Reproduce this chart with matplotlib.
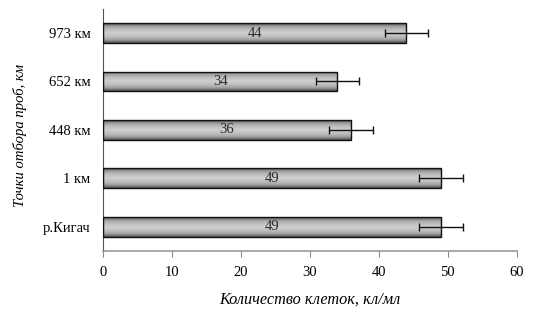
import numpy as np
import matplotlib.pyplot as plt
from matplotlib.colors import LinearSegmentedColormap

sites = ["р.Кигач", "1 км", "448 км", "652 км", "973 км"]
cells = [49, 49, 36, 34, 44]
errors = [3.2, 3.2, 3.2, 3.1, 3.1]
ticks_x = [0, 10, 20, 30, 40, 50, 60]

plt.rcParams["font.family"] = ["Liberation Serif", "DejaVu Serif"]

fig = plt.figure(figsize=(5.36, 3.30), dpi=100)
ax = fig.add_axes([0.192, 0.240, 0.772, 0.733])

bar_h = 0.41
ypos = np.arange(len(sites))

# vertical gradient: dark edges, light middle
cmap = LinearSegmentedColormap.from_list("bar", ["#cdcdcd", "#a4a4a4", "#505050"])
prof = np.abs(np.linspace(-1, 1, 64)) ** 1.6
grad = prof.reshape(-1, 1)

bars = ax.barh(ypos, cells, height=bar_h, color="none", edgecolor="#111111",
               linewidth=1.0, zorder=3)
for b in bars:
    x0, y0 = b.get_x(), b.get_y()
    w, h = b.get_width(), b.get_height()
    im = ax.imshow(grad, extent=[x0, x0 + w, y0, y0 + h], aspect="auto",
                   cmap=cmap, vmin=0, vmax=1, zorder=2, interpolation="bilinear")
    im.set_clip_path(b)

ax.errorbar(cells, ypos, xerr=errors, fmt="none", ecolor="#111111",
            elinewidth=1.0, capsize=3, capthick=1.0, zorder=4)

for y, v in zip(ypos, cells):
    ax.text(v / 2, y, str(v), ha="center", va="center", fontsize=10.5,
            color="#2a2a2a", zorder=5)

ax.set_xlim(0, 60)
ax.set_ylim(-0.5, len(sites) - 0.5)
ax.set_xticks(ticks_x)
ax.set_yticks(ypos)
ax.set_yticklabels(sites)
ax.tick_params(axis="y", length=0, pad=9, labelsize=10.5)
ax.tick_params(axis="x", direction="out", length=4, color="#888888",
               labelsize=10.5, pad=7)

for s in ["top", "right"]:
    ax.spines[s].set_visible(False)
ax.spines["bottom"].set_color("#999999")
ax.spines["bottom"].set_linewidth(1.2)
ax.spines["left"].set_color("#555555")

ax.set_xlabel("Количество клеток, кл/мл", fontstyle="italic", fontsize=11.7)
ax.xaxis.set_label_coords(0.5, -0.17)
ax.set_ylabel("Точки отбора проб, км", fontstyle="italic", fontsize=10.5)
ax.yaxis.set_label_coords(-0.183, 0.475)

fig.savefig("out.png", dpi=100)
